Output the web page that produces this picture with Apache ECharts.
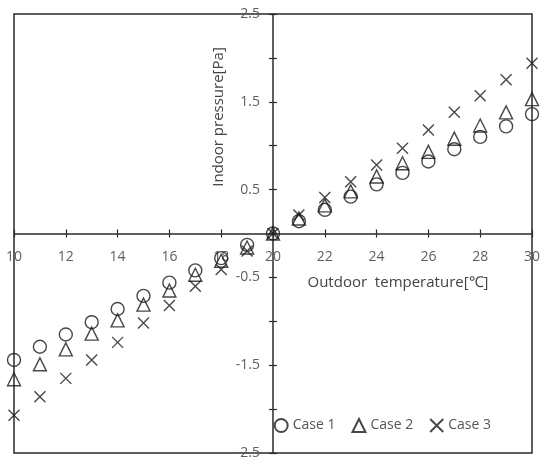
<!DOCTYPE html>
<html>
<head>
<meta charset="utf-8">
<script src="https://cdn.jsdelivr.net/npm/echarts@6/dist/echarts.min.js"></script>
<style>
html,body{margin:0;padding:0;background:#fff;}
#main{width:540px;height:459px;}
</style>
</head>
<body>
<div id="main"></div>
<script>
// outdoor temperature [℃]
var temps = [10,11,12,13,14,15,16,17,18,19,20,21,22,23,24,25,26,27,28,29,30];
// indoor pressure [Pa]
var case1 = [-1.44,-1.29,-1.15,-1.01,-0.86,-0.71,-0.56,-0.42,-0.28,-0.13,0,0.14,0.27,0.42,0.56,0.69,0.82,0.96,1.10,1.22,1.36];
var case2 = [-1.66,-1.49,-1.32,-1.14,-0.99,-0.81,-0.65,-0.47,-0.31,-0.16,0,0.17,0.32,0.48,0.65,0.80,0.93,1.08,1.23,1.38,1.53];
var case3 = [-2.07,-1.86,-1.65,-1.44,-1.24,-1.02,-0.82,-0.60,-0.41,-0.20,0,0.21,0.41,0.59,0.78,0.97,1.18,1.38,1.57,1.75,1.94];
var caseNames = ['Case 1','Case 2','Case 3'];
var yLabels = ['2.5','1.5','0.5','-0.5','-1.5','-2.5'];

var chart = echarts.init(document.getElementById('main'));

function pairs(vals){
	var out = [];
	for (var i = 0; i < temps.length; i++) out.push([temps[i], vals[i]]);
	return out;
}

var fontName = 'Open Sans';
var lineCol = '#2a2a2a';
var crossPath = 'path://M0,0L10,10M10,0L0,10';
var markStyle = {color:'transparent', borderColor:'#1a1a1a', borderWidth:1.4};

// grid geometry: axes cross in the middle of the grid (20 ℃, 0 Pa)
var gLeft = 14, gRight = 8, gTop = 14, gBottom = 6;
var gWidth = 540 - gLeft - gRight, gHeight = 459 - gTop - gBottom;
var yOff = -gWidth / 2;
var xOff = -gHeight / 2;

var tickStyle = {color:lineCol, width:1.2};

option = {
	animation:false,
	textStyle:{fontFamily:fontName},
	grid:{left:gLeft, right:gRight, top:gTop, bottom:gBottom, show:true, borderColor:lineCol, borderWidth:1.5,
		containLabel:false, outerBoundsMode:'none'},
	legend:{
		right:44, top:413,
		itemGap:16, itemWidth:13, itemHeight:13,
		textStyle:{fontSize:14, color:'#555', fontFamily:fontName},
		data:caseNames
	},
	xAxis:[{
		type:'value', min:10, max:30, interval:2, position:'bottom', offset:xOff,
		axisLine:{onZero:false, lineStyle:{color:lineCol, width:1.5}},
		axisTick:{show:true, length:4, lineStyle:tickStyle},
		axisLabel:{fontSize:14, color:'#5e5e5e', margin:17},
		splitLine:{show:false}
	},{
		type:'value', min:10, max:30, interval:2, position:'bottom', offset:xOff,
		axisLine:{show:false, onZero:false},
		axisTick:{show:true, inside:true, length:4, lineStyle:tickStyle},
		axisLabel:{show:false},
		splitLine:{show:false}
	}],
	yAxis:[{
		type:'value', min:-2.5, max:2.5, interval:0.5, position:'left', offset:yOff,
		axisLine:{show:true, onZero:false, lineStyle:{color:lineCol, width:1.5}},
		axisTick:{show:true, length:4, lineStyle:tickStyle},
		axisLabel:{fontSize:14, color:'#5e5e5e', margin:13,
			formatter:function(v){
				var s = String(v);
				return yLabels.indexOf(s) >= 0 ? s : '';
			}},
		splitLine:{show:false}
	},{
		type:'value', min:-2.5, max:2.5, interval:0.5, position:'left', offset:yOff,
		axisLine:{show:false, onZero:false},
		axisTick:{show:true, inside:true, length:4, lineStyle:tickStyle},
		axisLabel:{show:false},
		splitLine:{show:false}
	}],
	graphic:[{
		type:'text', x:219, y:117, rotation:Math.PI/2,
		style:{text:'Indoor pressure[Pa]', fontSize:15, fill:'#444', fontFamily:fontName,
			textAlign:'center', textVerticalAlign:'middle'}
	},{
		type:'text', x:398, y:283,
		style:{text:'Outdoor  temperature[℃]', fontSize:15, fill:'#444', fontFamily:fontName,
			textAlign:'center', textVerticalAlign:'middle'}
	}],
	series:[{
		name:caseNames[0], type:'scatter', symbol:'circle', symbolSize:13,
		itemStyle:markStyle, data:pairs(case1)
	},{
		name:caseNames[1], type:'scatter', symbol:'triangle', symbolSize:13,
		itemStyle:markStyle, data:pairs(case2)
	},{
		name:caseNames[2], type:'scatter', symbol:crossPath, symbolSize:11,
		itemStyle:markStyle, data:pairs(case3)
	}]
};
chart.setOption(option);
window.onresize = chart.resize;
</script>
</body>
</html>
